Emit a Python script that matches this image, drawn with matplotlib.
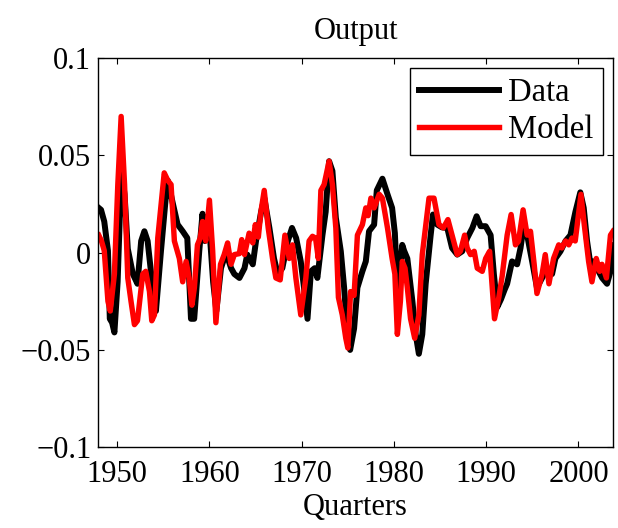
import matplotlib
matplotlib.use("Agg")
import matplotlib.pyplot as plt

# ---- data ----
data_years = [1948.0, 1948.25, 1948.6, 1949.0, 1949.2, 1949.45, 1949.7, 1950.05, 1950.45, 1950.8,
              1951.15, 1951.7, 1952.2, 1952.6, 1952.95, 1953.3, 1953.85, 1954.2, 1954.75, 1955.3,
              1955.5, 1956.0, 1956.55, 1957.1, 1957.6, 1958.0, 1958.35, 1958.9, 1959.25, 1959.5,
              1959.75, 1960.0, 1960.4, 1960.75, 1961.25, 1961.8, 1962.35, 1962.7, 1963.25, 1963.8,
              1964.1, 1964.7, 1965.05, 1965.6, 1965.95, 1966.5, 1967.0, 1967.4, 1967.9, 1968.5,
              1968.95, 1969.4, 1969.9, 1970.2, 1970.63, 1971.0, 1971.4, 1971.7, 1972.25, 1972.6,
              1972.97, 1973.33, 1973.7, 1974.24, 1974.6, 1974.96, 1975.25, 1975.68, 1976.04, 1976.58,
              1976.95, 1977.3, 1977.85, 1978.14, 1978.75, 1979.3, 1979.8, 1980.1, 1980.4, 1980.9,
              1981.1, 1981.45, 1982.0, 1982.36, 1982.7, 1983.07, 1983.44, 1983.98, 1984.23, 1984.7,
              1985.2, 1985.78, 1986.3, 1986.86, 1987.4, 1987.94, 1988.5, 1988.96, 1989.4, 1989.94,
              1990.48, 1990.83, 1991.2, 1991.6, 1992.0, 1992.27, 1992.8, 1993.35, 1993.72, 1994.08,
              1994.44, 1994.98, 1995.5, 1996.06, 1996.6, 1997.14, 1997.5, 1998.05, 1998.6, 1999.13,
              1999.67, 2000.2, 2000.57, 2000.93, 2001.3, 2001.65, 2002.0, 2002.57, 2003.1, 2003.47,
              2003.6, 2003.75]
data_vals = [0.023, 0.022, 0.016, 0.001, -0.034, -0.036, -0.041, -0.015, 0.042, 0.030,
             0.002, -0.011, -0.016, 0.006, 0.011, 0.006, -0.018, -0.030, 0.001, 0.030,
             0.037, 0.026, 0.0145, 0.011, 0.0075, -0.034, -0.034, 0.001, 0.020, 0.006,
             0.015, 0.012, -0.015, -0.030, -0.008, 0.000, -0.008, -0.011, -0.013, -0.008,
             -0.001, -0.006, 0.006, 0.021, 0.028, 0.0127, -0.003, -0.011, -0.008, 0.006,
             0.0127, 0.0075, -0.0045, -0.016, -0.034, -0.0096, -0.008, -0.013, 0.009, 0.021,
             0.047, 0.042, 0.018, 0.0007, -0.018, -0.042, -0.050, -0.039, -0.018, -0.0096,
             -0.0045, 0.011, 0.0144, 0.032, 0.038, 0.030, 0.023, 0.010, -0.022, 0.004,
             0.001, -0.003, -0.025, -0.042, -0.052, -0.042, -0.016, 0.009, 0.0196, 0.0144,
             0.013, 0.0127, 0.0024, -0.001, 0.0007, 0.0075, 0.0127, 0.0187, 0.0136, 0.0136,
             0.009, -0.011, -0.028, -0.024, -0.019, -0.016, -0.0045, -0.006, 0.0024, 0.0144,
             0.009, -0.0045, -0.018, -0.013, -0.008, -0.011, -0.003, 0.0007, 0.006, 0.009,
             0.021, 0.031, 0.023, 0.006, -0.006, -0.0045, -0.008, -0.013, -0.016, -0.0096,
             0.004, 0.003]

model_years = [1948.0, 1948.3, 1948.6, 1949.0, 1949.25, 1949.7, 1950.07, 1950.43, 1950.8, 1951.15,
               1951.5, 1951.87, 1952.2, 1952.77, 1953.1, 1953.5, 1953.75, 1954.04, 1954.4, 1954.76,
               1955.1, 1955.5, 1955.84, 1956.2, 1956.74, 1957.1, 1957.47, 1957.8, 1958.1, 1958.37,
               1958.7, 1959.0, 1959.26, 1959.6, 1960.0, 1960.35, 1960.7, 1961.2, 1961.6, 1961.97,
               1962.34, 1962.7, 1963.24, 1963.5, 1963.8, 1964.3, 1964.7, 1964.97, 1965.3, 1965.58,
               1965.94, 1966.37, 1966.84, 1967.2, 1967.67, 1968.18, 1968.65, 1969.0, 1969.37, 1969.9,
               1970.45, 1970.8, 1971.17, 1971.5, 1971.8, 1972.08, 1972.43, 1972.97, 1973.33, 1973.7,
               1973.98, 1974.4, 1974.78, 1975.0, 1975.3, 1975.68, 1976.04, 1976.58, 1976.95, 1977.2,
               1977.5, 1977.85, 1978.4, 1978.75, 1979.3, 1979.8, 1980.1, 1980.37, 1980.7, 1980.9,
               1981.2, 1981.45, 1981.8, 1982.25, 1982.7, 1983.07, 1983.5, 1983.8, 1984.34, 1984.88,
               1985.35, 1985.85, 1986.3, 1986.86, 1987.2, 1987.66, 1987.94, 1988.3, 1988.7, 1989.03,
               1989.57, 1989.94, 1990.37, 1990.65, 1990.9, 1991.37, 1991.73, 1992.27, 1992.7, 1993.17,
               1993.5, 1994.0, 1994.44, 1994.8, 1995.2, 1995.5, 1996.06, 1996.4, 1996.8, 1997.3,
               1997.86, 1998.2, 1998.6, 1998.95, 1999.3, 1999.65, 2000.0, 2000.27, 2000.63, 2001.1,
               2001.46, 2001.93, 2002.3, 2002.55, 2003.03, 2003.47, 2003.75]
model_vals = [0.009, 0.006, 0.001, -0.025, -0.030, -0.011, 0.035, 0.070, 0.035, -0.013,
              -0.025, -0.037, -0.035, -0.011, -0.0096, -0.020, -0.035, -0.032, 0.0075, 0.025,
              0.041, 0.037, 0.035, 0.006, -0.003, -0.015, -0.0045, -0.013, -0.027, -0.018,
              0.004, 0.0075, 0.016, 0.006, 0.027, 0.001, -0.036, -0.006, -0.001, 0.005,
              -0.006, -0.001, -0.0005, 0.0067, -0.001, 0.010, 0.005, 0.0144, 0.008, 0.021,
              0.032, 0.0127, -0.003, -0.013, -0.014, 0.009, -0.003, 0.004, -0.013, -0.032,
              -0.013, 0.006, 0.0084, 0.0075, -0.003, 0.032, 0.035, 0.047, 0.035, 0.0127,
              -0.023, -0.032, -0.044, -0.049, -0.020, -0.022, 0.009, 0.0144, 0.023, 0.019,
              0.028, 0.023, 0.030, 0.028, 0.0127, -0.003, -0.011, -0.042, -0.025, -0.0045,
              -0.008, -0.018, -0.034, -0.044, -0.032, -0.001, 0.016, 0.028, 0.028, 0.0144,
              0.0127, 0.017, 0.009, -0.001, 0.0007, 0.009, 0.0024, -0.001, 0.0007, -0.008,
              -0.0096, -0.003, 0.0007, -0.018, -0.034, -0.023, -0.012, 0.009, 0.0196, 0.004,
              0.0058, 0.022, 0.009, 0.011, -0.006, -0.021, -0.011, -0.001, -0.016, -0.003,
              0.004, 0.0024, 0.006, 0.004, 0.0075, 0.006, 0.0196, 0.030, 0.0144, -0.0045,
              -0.015, -0.003, -0.0096, -0.006, -0.013, 0.009, 0.011]

series_labels = ["Data", "Model"]
x_ticks = [1950, 1960, 1970, 1980, 1990, 2000]
y_ticks = [-0.1, -0.05, 0, 0.05, 0.1]
y_tick_labels = ["\u22120.1", "\u22120.05", "0", "0.05", "0.1"]
title_text = "Output"
xlabel_text = "Quarters"

plt.rcParams['font.family'] = ['Liberation Serif', 'DejaVu Serif']

fig = plt.figure(figsize=(6.18, 5.28), dpi=100)
ax = fig.add_axes([0.159, 0.153, 0.833, 0.737])

ax.plot(data_years, data_vals, color='black', lw=4.3, label=series_labels[0],
        solid_joinstyle='round')
ax.plot(model_years, model_vals, color='red', lw=3.9, label=series_labels[1],
        solid_joinstyle='round')

ax.set_xlim(1947.95, 2003.75)
ax.set_ylim(-0.1, 0.1)
ax.set_xticks(x_ticks)
ax.set_xticklabels([str(t) for t in x_ticks])
ax.set_yticks(y_ticks)
ax.set_yticklabels(y_tick_labels)
ax.tick_params(direction='in', top=True, right=True, length=4, width=0.8,
               labelsize=22)
ax.tick_params(axis='x', pad=9)
ax.tick_params(axis='y', pad=5)
for s in ax.spines.values():
    s.set_linewidth(1.0)

ax.set_title(title_text, fontsize=22, pad=14)
ax.set_xlabel(xlabel_text, fontsize=22, labelpad=3)

leg = ax.legend(loc='upper right', bbox_to_anchor=(0.98, 0.975), borderaxespad=0,
                fontsize=23.5, handlelength=2.45, handletextpad=0.25, borderpad=0.3,
                labelspacing=0.2, fancybox=False, framealpha=1)
leg.get_frame().set_edgecolor('black')
leg.get_frame().set_linewidth(1.0)

fig.savefig("out.png", dpi=100)
